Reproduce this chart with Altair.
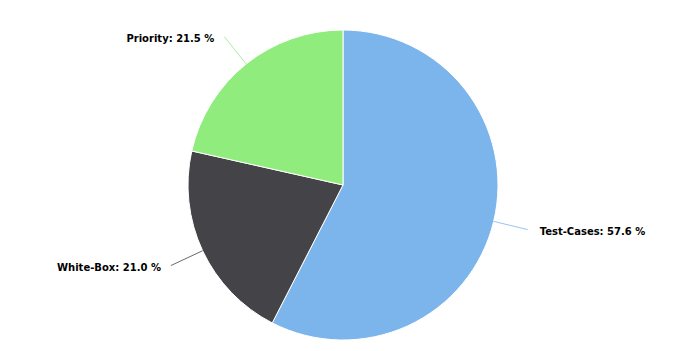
import math
import altair as alt
import pandas as pd

categories = ["Test-Cases", "White-Box", "Priority"]
shares = [57.6, 21.0, 21.5]
colors = ["#7cb5ec", "#434348", "#90ed7d"]

total = sum(shares)
starts, ends = [], []
acc = 0.0
for s in shares:
    starts.append(acc)
    acc += s
    ends.append(acc)

df = pd.DataFrame({
    "category": categories,
    "share": shares,
    "start": starts,
    "end": ends,
    "label": [f"{c}: {s:.1f} %" for c, s in zip(categories, shares)],
})

CX, CY, R, RL = 343, 185, 155, 190

base = (
    alt.Chart(df)
    .transform_calculate(ang=f"2*PI*((datum.start+datum.end)/2)/{total}")
    .transform_calculate(
        sx=f"{CX}+{R}*sin(datum.ang)",
        sy=f"{CY}-{R}*cos(datum.ang)",
        ex=f"{CX}+{RL}*sin(datum.ang)",
        ey=f"{CY}-{RL}*cos(datum.ang)",
        side="sin(datum.ang) >= 0 ? 'right' : 'left'",
    )
    .transform_calculate(
        lx="datum.side == 'right' ? datum.ex + 12 : datum.ex - 10",
        ly="datum.ey + 2",
    )
)

color = alt.Color("category:N", scale=alt.Scale(domain=categories, range=colors), legend=None)

arcs = base.mark_arc(outerRadius=R, stroke="white", strokeWidth=1).encode(
    theta=alt.Theta("start:Q", scale=alt.Scale(domain=[0, total], range=[0, 2 * math.pi])),
    theta2="end:Q",
    x=alt.value(CX),
    y=alt.value(CY),
    color=color,
)

connectors = base.mark_rule(strokeWidth=1, opacity=0.8).encode(
    x=alt.X("sx:Q", scale=None, axis=None),
    y=alt.Y("sy:Q", scale=None, axis=None),
    x2="ex:Q",
    y2="ey:Q",
    color=color,
)

text_style = dict(baseline="middle", fontWeight="bold", fontSize=10, font="DejaVu Sans", color="#000000")

labels_right = base.transform_filter("datum.side == 'right'").mark_text(align="left", **text_style).encode(
    x=alt.X("lx:Q", scale=None, axis=None),
    y=alt.Y("ly:Q", scale=None, axis=None),
    text="label:N",
)
labels_left = base.transform_filter("datum.side == 'left'").mark_text(align="right", **text_style).encode(
    x=alt.X("lx:Q", scale=None, axis=None),
    y=alt.Y("ly:Q", scale=None, axis=None),
    text="label:N",
)

chart = (
    alt.layer(arcs, connectors, labels_right, labels_left)
    .properties(width=689, height=351, padding=0, autosize=alt.AutoSizeParams(type="none"), background="white")
    .configure_view(stroke=None)
)

chart.save("out.html", embed_options={"renderer": "svg", "actions": False})
